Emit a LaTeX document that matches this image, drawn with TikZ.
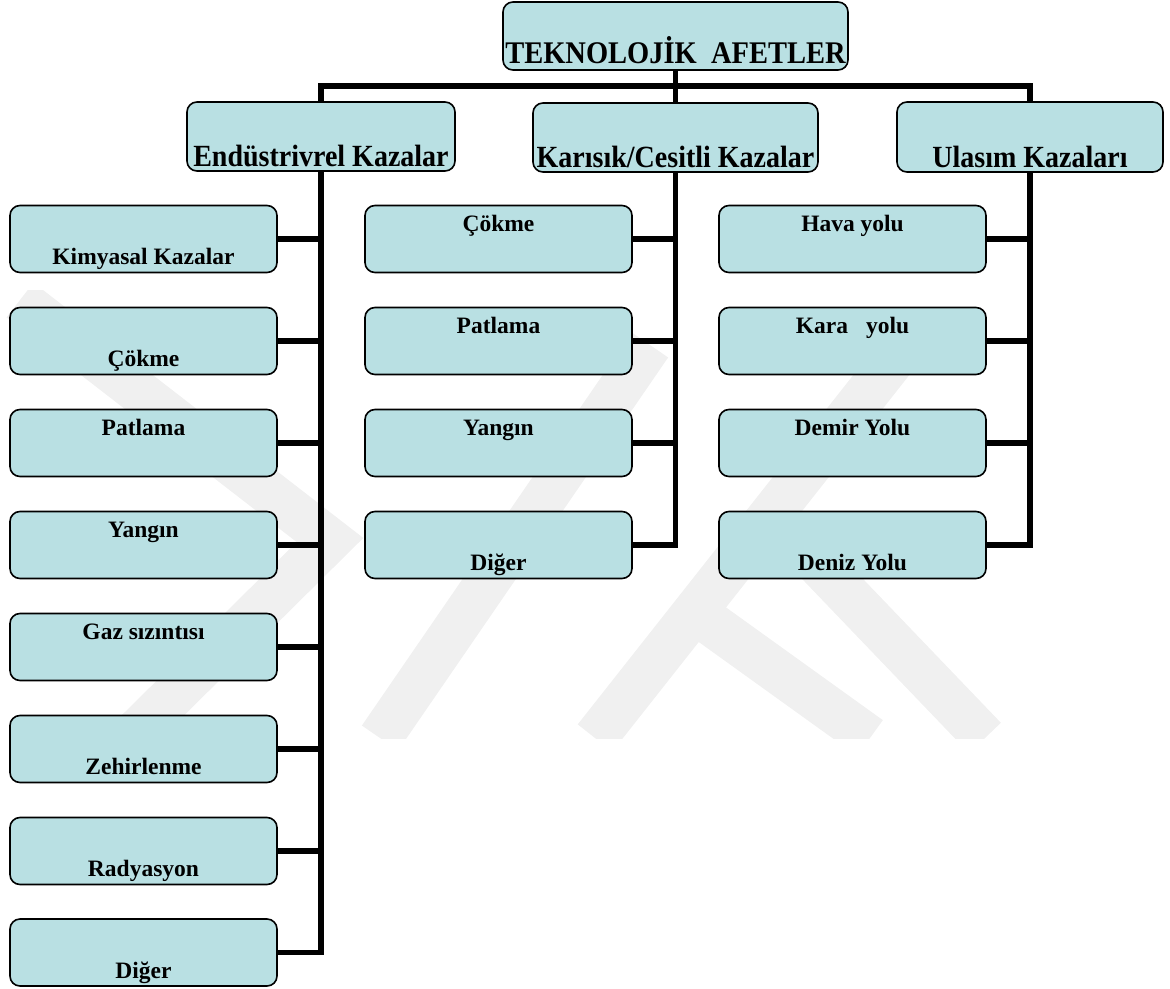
\documentclass[tikz,border=0pt]{standalone}
\usepackage{fontspec}
\usepackage{graphicx}
\setmainfont{Liberation Serif}
\definecolor{boxfill}{RGB}{185,224,227}
\definecolor{wmark}{RGB}{240,240,240}

\begin{document}
\begin{tikzpicture}[x=1pt,y=-1pt,
  box/.style={draw=black, line width=1.6pt, fill=boxfill, rounded corners=10pt,
              minimum width=267pt, minimum height=67pt, inner sep=0pt},
  wire/.style={draw=black, line width=5.5pt, line join=miter},
  band/.style={draw=wmark, line width=44pt, line join=miter},
  roottxt/.style={inner sep=0pt, font=\fontsize{30}{34}\selectfont\bfseries},
  cattxt/.style={inner sep=0pt, font=\fontsize{28}{32}\selectfont\bfseries},
  leaftxt/.style={inner sep=0pt, font=\fontsize{23.5}{27}\selectfont\bfseries}]

\useasboundingbox (0,0) rectangle (1170,988);

% faint background emblem
\begin{scope}
  \clip (0,290) rectangle (1170,738);
  \draw[band] (20,300) -- (330,540) -- (130,738);
  \draw[band] (650,345) -- (380,738);
  \draw[band] (905,345) -- (595,738);
  \draw[band] (685,605) -- (870,738);
  \draw[band] (800,545) -- (985,738);
\end{scope}

% top level
\node[box, minimum width=345pt, minimum height=68pt] (root) at (675.5,36) {};
\node[roottxt, anchor=base] (roott) at ([yshift=7pt]root.south)
  {\scalebox{0.95}[1.05]{TEKNOLOJİK\ \ AFETLER}};

% categories
\node[box, minimum width=268pt, minimum height=69pt] (ind) at (321,136.5) {};
\node[box, minimum width=285pt, minimum height=69pt] (mix) at (675.5,137.5) {};
\node[box, minimum width=266pt, minimum height=70pt] (tra) at (1030,137) {};
\node[cattxt, anchor=base] (indt) at ([yshift=5pt]ind.south) {\scalebox{1}[1.1]{Endüstrivrel Kazalar}};
\node[cattxt, anchor=base] (mixt) at ([yshift=5pt]mix.south) {\scalebox{1}[1.1]{Karısık/Cesitli Kazalar}};
\node[cattxt, anchor=base] (trat) at ([yshift=5pt]tra.south) {\scalebox{1}[1.1]{Ulasım Kazaları}};

% industrial accidents
\node[box] (a1) at (143.5,239) {};
\node[box] (a2) at (143.5,341) {};
\node[box] (a3) at (143.5,443) {};
\node[box] (a4) at (143.5,545) {};
\node[box] (a5) at (143.5,647) {};
\node[box] (a6) at (143.5,749) {};
\node[box] (a7) at (143.5,851) {};
\node[box] (a8) at (143.5,952.5) {};
\node[leaftxt, anchor=base] (a1t) at ([yshift=8.5pt]a1.south) {Kimyasal Kazalar};
\node[leaftxt, anchor=base] (a2t) at ([yshift=8.5pt]a2.south) {Çökme};
\node[leaftxt, anchor=base] (a3t) at ([yshift=-27pt]a3.north) {Patlama};
\node[leaftxt, anchor=base] (a4t) at ([yshift=-27pt]a4.north) {Yangın};
\node[leaftxt, anchor=base] (a5t) at ([yshift=-27pt]a5.north) {Gaz sızıntısı};
\node[leaftxt, anchor=base] (a6t) at ([yshift=8.5pt]a6.south) {Zehirlenme};
\node[leaftxt, anchor=base] (a7t) at ([yshift=8.5pt]a7.south) {Radyasyon};
\node[leaftxt, anchor=base] (a8t) at ([yshift=8.5pt]a8.south) {Diğer};

% mixed / various accidents
\node[box] (b1) at (498.5,239) {};
\node[box] (b2) at (498.5,341) {};
\node[box] (b3) at (498.5,443) {};
\node[box] (b4) at (498.5,545) {};
\node[leaftxt, anchor=base] (b1t) at ([yshift=-27pt]b1.north) {Çökme};
\node[leaftxt, anchor=base] (b2t) at ([yshift=-27pt]b2.north) {Patlama};
\node[leaftxt, anchor=base] (b3t) at ([yshift=-27pt]b3.north) {Yangın};
\node[leaftxt, anchor=base] (b4t) at ([yshift=8.5pt]b4.south) {Diğer};

% transport accidents
\node[box] (c1) at (852.5,239) {};
\node[box] (c2) at (852.5,341) {};
\node[box] (c3) at (852.5,443) {};
\node[box] (c4) at (852.5,545) {};
\node[leaftxt, anchor=base] (c1t) at ([yshift=-27pt]c1.north) {Hava yolu};
\node[leaftxt, anchor=base] (c2t) at ([yshift=-27pt]c2.north) {Kara\hspace{18pt}yolu};
\node[leaftxt, anchor=base] (c3t) at ([yshift=-27pt]c3.north) {Demir Yolu};
\node[leaftxt, anchor=base] (c4t) at ([yshift=8.5pt]c4.south) {Deniz Yolu};

% connectors
\coordinate (bar) at (675.5,86);
\draw[wire] (root.south) -- (mix.north);
\draw[wire] (ind.north) |- (bar) -| (tra.north);

\draw[wire] (ind.south) |- (a8.east);
\foreach \n in {a1,a2,a3,a4,a5,a6,a7}
  \draw[wire] (\n.east) -- (\n.east -| ind.south);

\draw[wire] (mix.south) |- (b4.east);
\foreach \n in {b1,b2,b3}
  \draw[wire] (\n.east) -- (\n.east -| mix.south);

\draw[wire] (tra.south) |- (c4.east);
\foreach \n in {c1,c2,c3}
  \draw[wire] (\n.east) -- (\n.east -| tra.south);
\end{tikzpicture}
\end{document}
